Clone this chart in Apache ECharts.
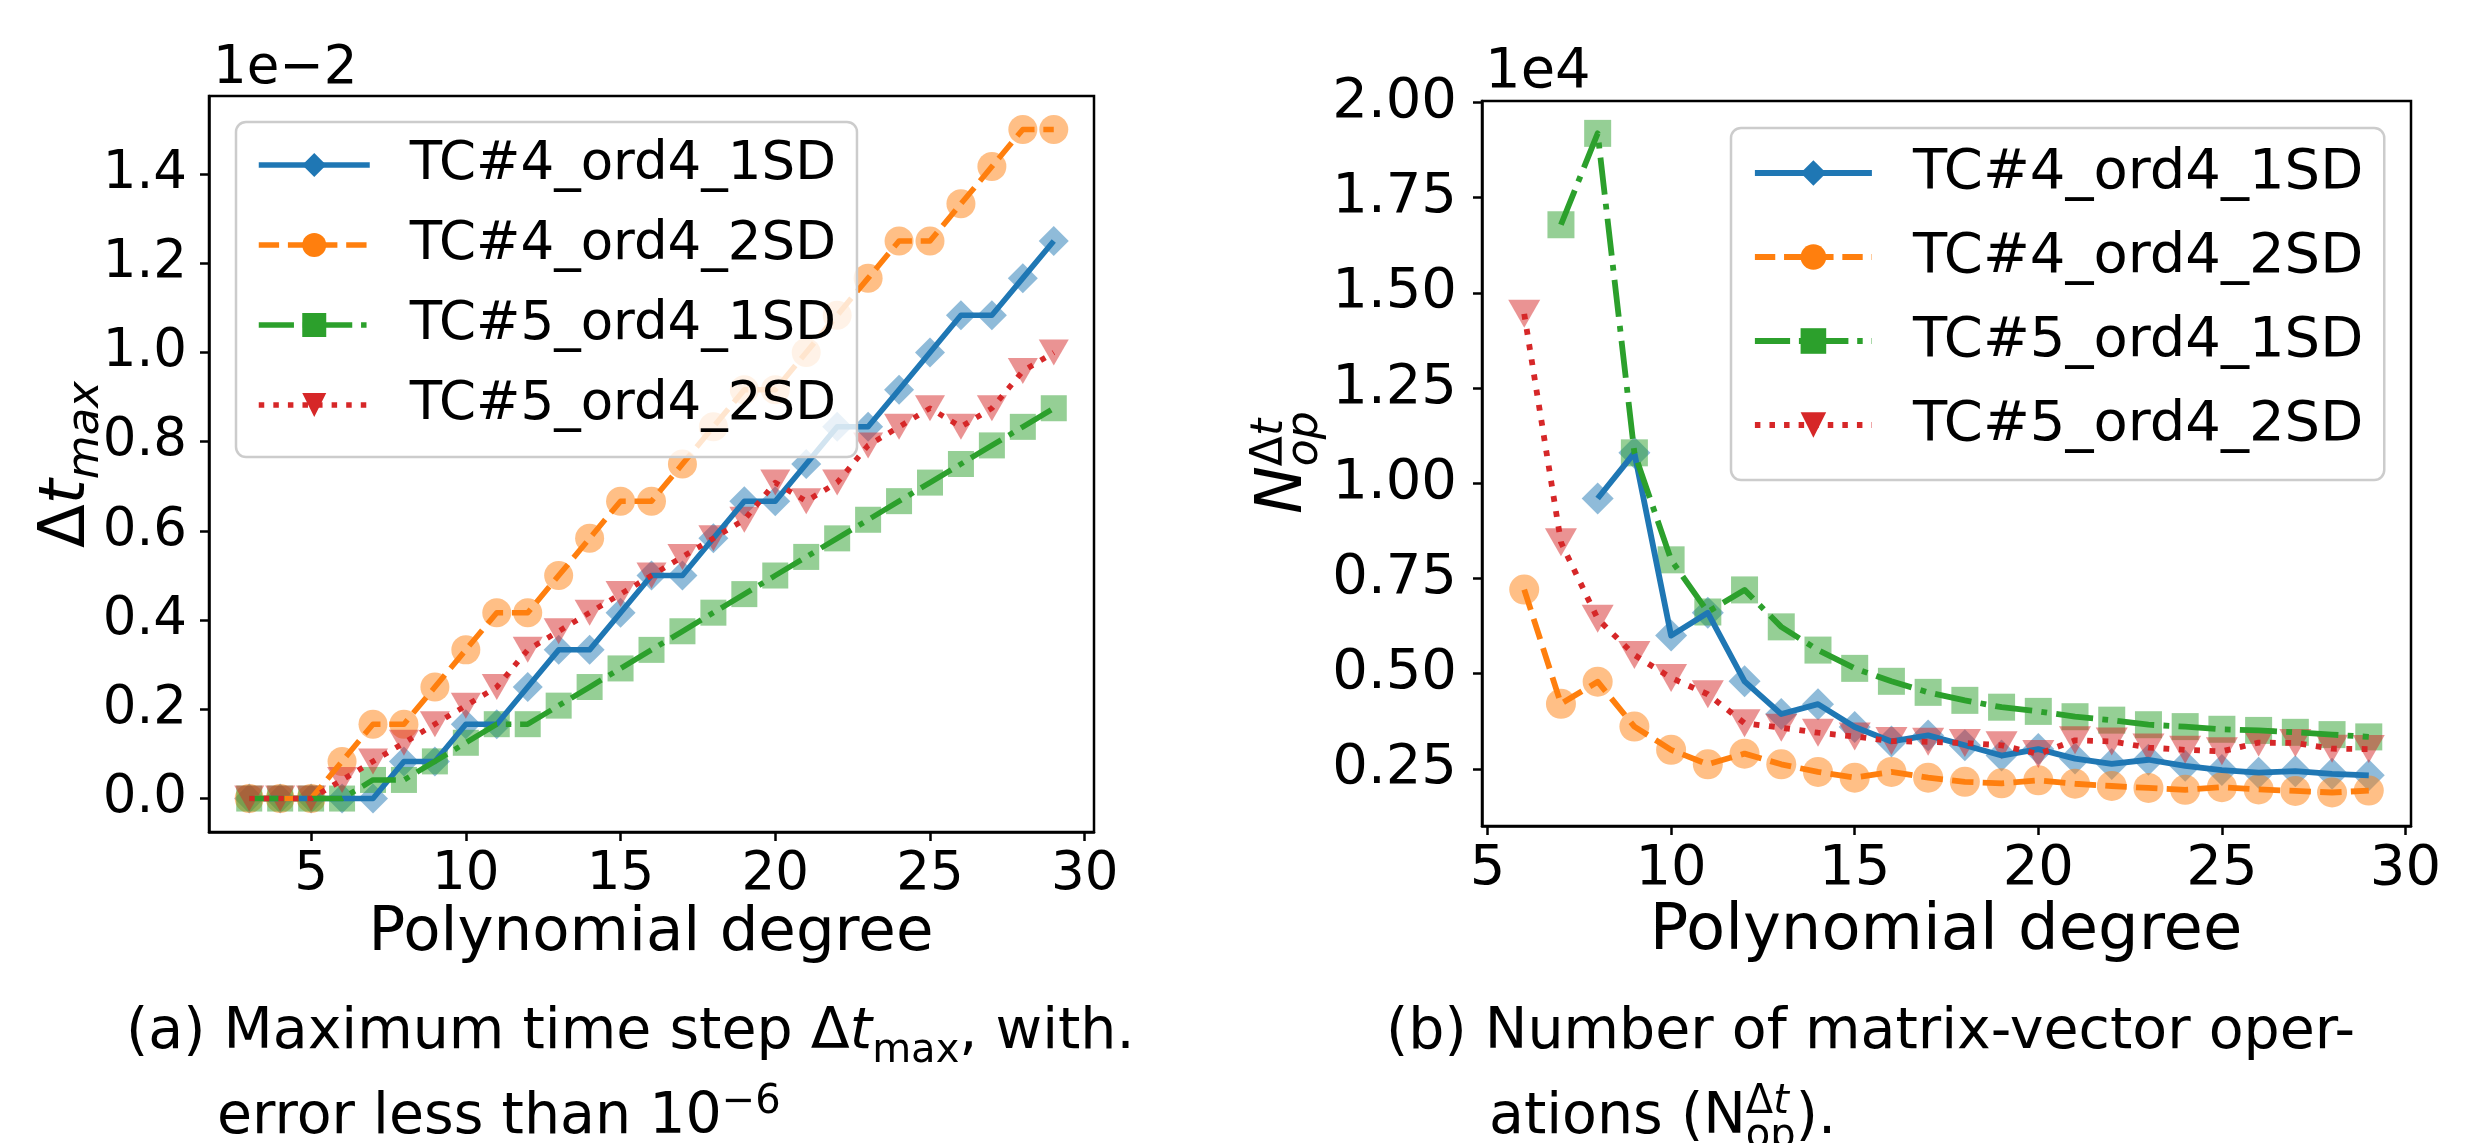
<!DOCTYPE html>
<html><head><meta charset="utf-8">
<script src="https://cdn.jsdelivr.net/npm/echarts@6/dist/echarts.min.js"></script>
<style>html,body{margin:0;padding:0;background:#fff}#c{width:2481px;height:1143px}</style>
</head><body><div id="c"></div>
<script>
// ---------------- DATA ----------------
// (a) maximum time step, x = polynomial degree
const degreesA = [3,4,5,6,7,8,9,10,11,12,13,14,15,16,17,18,19,20,21,22,23,24,25,26,27,28,29];
const dtMax_TC4_1SD = [0,0,0,0,0,0.000833,0.000833,0.001667,0.001667,0.0025,0.003333,0.003333,0.004167,0.005,0.005,0.005833,0.006667,0.006667,0.0075,0.008333,0.008333,0.009167,0.01,0.010833,0.010833,0.011667,0.0125];
const dtMax_TC4_2SD = [0,0,0,0.000833,0.001667,0.001667,0.0025,0.003333,0.004167,0.004167,0.005,0.005833,0.006667,0.006667,0.0075,0.008333,0.009167,0.009167,0.01,0.010833,0.011667,0.0125,0.0125,0.013333,0.014167,0.015,0.015];
const dtMax_TC5_1SD = [0,0,0,0,0.000417,0.000417,0.000833,0.00125,0.001667,0.001667,0.002083,0.0025,0.002917,0.003333,0.00375,0.004167,0.004583,0.005,0.005417,0.005833,0.00625,0.006667,0.007083,0.0075,0.007917,0.008333,0.00875];
const dtMax_TC5_2SD = [0,0,0,0.000417,0.000833,0.00125,0.001667,0.002083,0.0025,0.003333,0.00375,0.004167,0.004583,0.005,0.005417,0.005833,0.00625,0.007083,0.006667,0.007083,0.007917,0.008333,0.00875,0.008333,0.00875,0.009583,0.01];
// (b) number of matrix-vector operations
const degreesB = [6,7,8,9,10,11,12,13,14,15,16,17,18,19,20,21,22,23,24,25,26,27,28,29];
const nOp_TC4_1SD = [null,null,9600,10800,6000,6600,4800,3940,4200,3600,3220,3380,3120,2850,3020,2770,2630,2740,2580,2470,2400,2440,2370,2330];
const nOp_TC4_2SD = [7210,4210,4790,3610,3000,2620,2900,2620,2420,2270,2420,2270,2160,2120,2200,2110,2050,2000,1950,2020,1960,1920,1880,1930];
const nOp_TC5_1SD = [null,16790,19190,10800,7990,6620,7200,6230,5620,5140,4800,4510,4300,4120,4010,3870,3780,3660,3610,3540,3510,3460,3400,3340];
const nOp_TC5_2SD = [14450,8450,6440,5490,4890,4460,3700,3580,3450,3350,3230,3210,3180,3120,2890,3250,3220,3060,3000,2960,3190,3180,3030,3020];
const seriesNames = ['TC#4_ord4_1SD','TC#4_ord4_2SD','TC#5_ord4_1SD','TC#5_ord4_2SD'];
const xTicks = [5,10,15,20,25,30];
const yTicksA = [0,0.002,0.004,0.006,0.008,0.010,0.012,0.014];
const yTicksB = [2500,5000,7500,10000,12500,15000,17500,20000];

// ---------------- STYLE ----------------
const FONT = '"DejaVu Sans", sans-serif';
const COLORS = ['#1f77b4','#ff7f0e','#2ca02c','#d62728'];
const SYMBOLS = ['diamond','circle','rect','triangle'];
const ROT = [0,0,0,180];
function dashes(lw){ return ['solid',[3.7*lw,1.6*lw],[6.4*lw,1.6*lw,1*lw,1.6*lw],[1*lw,1.65*lw]]; }
function pairs(xs, ys){ const out=[]; xs.forEach((x,i)=>{ if(ys[i]!==null && ys[i]!==undefined) out.push([x,ys[i]]); }); return out; }

const panels = [
  {xs: degreesA, ys:[dtMax_TC4_1SD,dtMax_TC4_2SD,dtMax_TC5_1SD,dtMax_TC5_2SD], lw:5.5,
   sizes:[30,29,26,[30,26]]},
  {xs: degreesB, ys:[nOp_TC4_1SD,nOp_TC4_2SD,nOp_TC5_1SD,nOp_TC5_2SD], lw:5.8,
   sizes:[32,30,27,[32,28]]}
];

const series = [];
panels.forEach((p, pi) => {
  const d = dashes(p.lw);
  p.ys.forEach((ys, i) => {
    series.push({type:'scatter', name: seriesNames[i]+'_markers', xAxisIndex:pi, yAxisIndex:pi,
      data: pairs(p.xs, ys), symbol: SYMBOLS[i], symbolSize: p.sizes[i], symbolRotate: ROT[i],
      itemStyle:{color: COLORS[i], opacity:0.5}, z:2, silent:true, animation:false});
  });
  p.ys.forEach((ys, i) => {
    series.push({type:'line', name: seriesNames[i], xAxisIndex:pi, yAxisIndex:pi,
      data: pairs(p.xs, ys), showSymbol:false, symbol: SYMBOLS[i], symbolRotate: ROT[i],
      lineStyle:{color: COLORS[i], width: p.lw, type: d[i], cap:'butt', join:'round'},
      itemStyle:{color: COLORS[i]}, z:3, silent:true, animation:false});
  });
});

function xAxis(gi, min, max, fs, margin){
  return {type:'value', gridIndex:gi, min, max,
    axisLine:{show:true, onZero:false, lineStyle:{color:'#000', width:2.5}},
    axisTick:{show:true, length:9, inside:false, customValues:xTicks, lineStyle:{color:'#000', width:2.5}},
    axisLabel:{show:true, customValues:xTicks, fontSize:fs, fontFamily:FONT, color:'#000', margin},
    splitLine:{show:false}};
}
function yAxis(gi, min, max, ticks, fs, margin, fmt){
  return {type:'value', gridIndex:gi, min, max,
    axisLine:{show:true, onZero:false, lineStyle:{color:'#000', width:2.5}},
    axisTick:{show:true, length:9, inside:false, customValues:ticks, lineStyle:{color:'#000', width:2.5}},
    axisLabel:{show:true, customValues:ticks, fontSize:fs, fontFamily:FONT, color:'#000', margin, formatter:fmt},
    splitLine:{show:false}};
}

// ------------- text helpers (captions / titles) -------------
const K = 0.346;
const cv = document.createElement('canvas').getContext('2d');
function W(t, fs, it){ cv.font = (it?'italic ':'') + fs + 'px "DejaVu Sans"'; return cv.measureText(t).width; }
function T(x, base, t, fs, o){ o=o||{}; return {type:'text', x, y: base - K*fs, silent:true,
  style:{text:t, fontSize:fs, fontFamily:FONT, fontStyle:o.it?'italic':'normal', fill:'#000', align:o.align||'left', verticalAlign:'middle'}}; }
function seq(x, base, parts){
  const els=[]; let cx=x;
  for(const p of parts){
    if(p.stack){
      let w=0;
      for(const sub of p.stack){
        let sx=cx;
        for(const q of sub){ els.push(T(sx, base+(q.dy||0), q.t, q.fs, {it:q.it})); sx+=W(q.t,q.fs,q.it); }
        w=Math.max(w, sx-cx);
      }
      cx+=w;
    } else {
      els.push(T(cx, base+(p.dy||0), p.t, p.fs, {it:p.it})); cx+=W(p.t,p.fs,p.it);
    }
  }
  return els;
}

const graphics = [];
graphics.push(T(213, 88, '1e\u22122', 53));
graphics.push(T(1485, 92, '1e4', 56));
graphics.push(T(651, 955, 'Polynomial degree', 61, {align:'center'}));
graphics.push(T(1946, 955, 'Polynomial degree', 64, {align:'center'}));
// y-axis labels (rotated)
graphics.push({type:'group', x:90, y:548, rotation:Math.PI/2, children: seq(0,0,[
  {t:'\u0394', fs:64}, {t:'t', fs:64, it:true}, {t:'max', fs:45, it:true, dy:12}])});
graphics.push({type:'group', x:1307, y:514, rotation:Math.PI/2, children: seq(0,0,[
  {t:'N', fs:64, it:true},
  {stack:[[{t:'\u0394', fs:44, dy:-21},{t:'t', fs:44, it:true, dy:-21}], [{t:'op', fs:44, it:true, dy:14}]]}])});
// captions
seq(126, 1053, [{t:'(a) Maximum time step ', fs:57}, {t:'\u0394', fs:57}, {t:'t', fs:57, it:true}, {t:'max', fs:40, dy:12}, {t:', with.', fs:57}]).forEach(e=>graphics.push(e));
seq(217, 1138, [{t:'error less than 10', fs:57}, {t:'\u22126', fs:40, dy:-22}]).forEach(e=>graphics.push(e));
seq(1386, 1053, [{t:'(b) Number of matrix-vector oper-', fs:57}]).forEach(e=>graphics.push(e));
seq(1489, 1138, [{t:'ations (N', fs:57},
  {stack:[[{t:'\u0394', fs:40, dy:-22},{t:'t', fs:40, it:true, dy:-22}], [{t:'op', fs:40, dy:12}]]},
  {t:').', fs:57}]).forEach(e=>graphics.push(e));

const legendBase = {orient:'vertical', data: seriesNames, selectedMode:false,
  backgroundColor:'rgba(255,255,255,0.8)', borderColor:'#cccccc', borderWidth:2.5, borderRadius:10};

const option = {
  animation:false,
  backgroundColor:'#ffffff',
  textStyle:{fontFamily:FONT},
  grid:[
    {left:209, top:96, width:885, height:736, show:true, borderColor:'#000', borderWidth:2.5, backgroundColor:'transparent', containLabel:false, outerBoundsMode:'none'},
    {left:1482, top:101, width:929, height:725, show:true, borderColor:'#000', borderWidth:2.5, backgroundColor:'transparent', containLabel:false, outerBoundsMode:'none'}
  ],
  xAxis:[ xAxis(0, 1.7, 30.3, 53, 17), xAxis(1, 4.85, 30.15, 56, 15) ],
  yAxis:[
    yAxis(0, -0.00075, 0.01575, yTicksA, 53, 22, v => (v*100).toFixed(1)),
    yAxis(1, 1000, 20040, yTicksB, 56, 25, v => (v/10000).toFixed(2))
  ],
  legend:[
    Object.assign({}, legendBase, {left:236, top:122, padding:[13,21,22,20], itemWidth:111, itemHeight:30, itemGap:20,
      lineStyle:{width:5.5}, itemStyle:{opacity:1},
      textStyle:{fontSize:53, fontFamily:FONT, color:'#000', lineHeight:60, padding:[0,0,0,35]}}),
    Object.assign({}, legendBase, {left:1731, top:128, padding:[14,21,24,21], itemWidth:117, itemHeight:32, itemGap:22,
      lineStyle:{width:5.8}, itemStyle:{opacity:1},
      textStyle:{fontSize:56, fontFamily:FONT, color:'#000', lineHeight:62, padding:[0,0,0,36]}})
  ],
  series,
  graphic: graphics
};
const chart = echarts.init(document.getElementById('c'), null, {renderer:'canvas'});
chart.setOption(option);
</script></body></html>
